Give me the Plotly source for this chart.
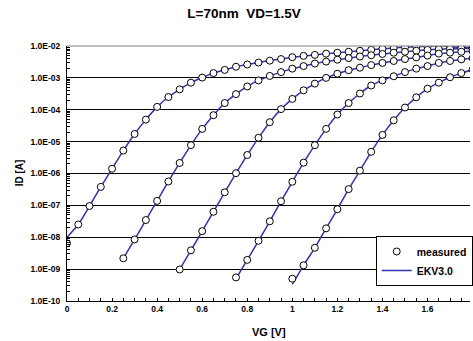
import plotly.graph_objects as go

# Gate voltage grid (V) for each curve
vg_c1 = [0.00, 0.05, 0.10, 0.15, 0.20, 0.25, 0.30, 0.35, 0.40, 0.45, 0.50, 0.55, 0.60, 0.65, 0.70,
         0.75, 0.80, 0.85, 0.90, 0.95, 1.00, 1.05, 1.10, 1.15, 1.20, 1.25, 1.30, 1.35, 1.40, 1.45,
         1.50, 1.55, 1.60, 1.65, 1.70, 1.75, 1.80]
vg_c2 = vg_c1[5:]
vg_c3 = vg_c1[10:]
vg_c4 = vg_c1[15:]
vg_c5 = vg_c1[20:]

# Measured drain current, log10(ID [A])
log_id_c1 = [-8.19, -7.60, -7.02, -6.42, -5.85, -5.28, -4.76, -4.31, -3.91, -3.60, -3.36, -3.15,
             -2.99, -2.85, -2.75, -2.65, -2.58, -2.52, -2.46, -2.41, -2.35, -2.31, -2.28, -2.24,
             -2.21, -2.18, -2.15, -2.12, -2.09, -2.06, -2.04, -2.02, -2.01, -1.98, -2.02, -2.04, -2.05]
log_id_c2 = [-8.66, -8.07, -7.46, -6.86, -6.25, -5.67, -5.11, -4.60, -4.17, -3.79, -3.51, -3.27,
             -3.08, -2.94, -2.82, -2.71, -2.63, -2.55, -2.49, -2.43, -2.38, -2.33, -2.29, -2.25,
             -2.21, -2.18, -2.15, -2.12, -2.10, -2.09, -2.08, -2.08]
log_id_c3 = [-9.01, -8.41, -7.81, -7.20, -6.59, -5.99, -5.42, -4.88, -4.39, -3.98, -3.66, -3.39,
             -3.18, -3.00, -2.87, -2.76, -2.68, -2.60, -2.53, -2.47, -2.41, -2.36, -2.30, -2.24,
             -2.21, -2.18, -2.16]
log_id_c4 = [-9.26, -8.71, -8.11, -7.50, -6.87, -6.26, -5.66, -5.11, -4.60, -4.15, -3.79, -3.49,
             -3.24, -3.08, -2.95, -2.82, -2.71, -2.63, -2.53, -2.47, -2.42, -2.38]
log_id_c5 = [-9.30, -8.88, -8.33, -7.72, -7.12, -6.49, -5.91, -5.32, -4.79, -4.33, -3.93, -3.61,
             -3.34, -3.15, -2.98, -2.85, -2.74]

# EKV3.0 model, log10(ID [A]) (differs from measured at the lowest points)
log_model_c1 = [-8.00] + log_id_c1[1:]
log_model_c2 = log_id_c2
log_model_c3 = log_id_c3
log_model_c4 = [-9.30] + log_id_c4[1:]
log_model_c5 = [-9.48] + log_id_c5[1:]

y_tickvals = [1e-10, 1e-9, 1e-8, 1e-7, 1e-6, 1e-5, 1e-4, 1e-3, 1e-2]
y_ticktext = ["1.0E-10", "1.0E-09", "1.0E-08", "1.0E-07", "1.0E-06", "1.0E-05", "1.0E-04",
              "1.0E-03", "1.0E-02"]
x_tickvals = [0, 0.2, 0.4, 0.6, 0.8, 1.0, 1.2, 1.4, 1.6]
x_ticktext = ["0", "0.2", "0.4", "0.6", "0.8", "1", "1.2", "1.4", "1.6"]

FONT = "Liberation Sans, Arial, sans-serif"
LINE_COLOR = "#3232b4"

fig = go.Figure()

curves = [(vg_c1, log_id_c1, log_model_c1), (vg_c2, log_id_c2, log_model_c2),
          (vg_c3, log_id_c3, log_model_c3), (vg_c4, log_id_c4, log_model_c4),
          (vg_c5, log_id_c5, log_model_c5)]

for i, (vg, meas, model) in enumerate(curves):
    fig.add_trace(go.Scatter(
        x=vg, y=[10 ** v for v in model], mode="lines",
        line=dict(color=LINE_COLOR, width=1.5, shape="spline", smoothing=0.6),
        name="EKV3.0", legendgroup="model", showlegend=(i == 0), legendrank=2))

for i, (vg, meas, model) in enumerate(curves):
    fig.add_trace(go.Scatter(
        x=vg, y=[10 ** v for v in meas], mode="markers",
        marker=dict(symbol="circle", size=7, color="white", line=dict(color="black", width=1)),
        name="measured", legendgroup="meas", showlegend=(i == 0), legendrank=1))

W, H = 473, 341
L, R, T, B = 67, 0, 46, 40
plot_w = W - L - R
plot_h = H - T - B
x_px_per_unit = 227.0
x_max = plot_w / x_px_per_unit

BOLD = dict(family=FONT, weight="bold", color="black")

fig.update_layout(
    width=W, height=H,
    margin=dict(l=L, r=R, t=T, b=B, pad=0),
    paper_bgcolor="white", plot_bgcolor="white",
    font=dict(family=FONT, color="black"),
    title=dict(text="L=70nm\u00a0 VD=1.5V", x=244 / W, xanchor="center",
               y=1 - 13 / H, yanchor="middle", font=dict(BOLD, size=13.5)),
    showlegend=True,
    legend=dict(x=(378 - L) / plot_w, xanchor="left", y=(H - B - 236) / plot_h, yanchor="top",
                bgcolor="white", bordercolor="black", borderwidth=1,
                font=dict(BOLD, size=10.5), tracegroupgap=0, itemwidth=30,
                entrywidth=50),
    xaxis=dict(range=[0, x_max], tickvals=x_tickvals, ticktext=x_ticktext,
               ticks="inside", ticklen=3, tickcolor="black", tickwidth=1,
               showline=True, linecolor="black", linewidth=1,
               showgrid=False, zeroline=False,
               tickfont=dict(BOLD, size=8.5),
               minor=dict(dtick=0.05, tick0=0, ticks="inside", ticklen=3, tickcolor="black",
                          showgrid=False)),
    yaxis=dict(type="log", range=[-10, -2], tickvals=y_tickvals, ticktext=y_ticktext,
               ticks="inside", ticklen=3, tickcolor="black",
               showline=True, linecolor="black", linewidth=1,
               showgrid=True, gridcolor="black", gridwidth=1, zeroline=False,
               tickfont=dict(BOLD, size=8.5), ticklabelstandoff=4,
               minor=dict(dtick="D1", ticks="inside", ticklen=3, tickcolor="black",
                          showgrid=False)),
    shapes=[dict(type="line", xref="paper", yref="paper", x0=0, x1=1, y0=1, y1=1,
                 line=dict(color="#808080", width=1))],
    annotations=[
        dict(text="1.8", xref="x", yref="paper", x=1.8, y=-14 / plot_h,
             xanchor="center", yanchor="middle", showarrow=False,
             font=dict(BOLD, size=8.5)),
        dict(text="VG [V]", xref="paper", yref="paper", x=(271 - L) / plot_w,
             y=-31 / plot_h, xanchor="center", yanchor="middle", showarrow=False,
             font=dict(BOLD, size=11)),
        dict(text="ID [A]", xref="paper", yref="paper", x=(19 - L) / plot_w,
             y=(H - B - 173) / plot_h, xanchor="center", yanchor="middle",
             showarrow=False, textangle=-90, font=dict(BOLD, size=10)),
    ],
)

fig.write_html("out.html", config={"displayModeBar": False},
               post_script="document.body.style.margin='0';document.body.style.overflow='hidden';")
